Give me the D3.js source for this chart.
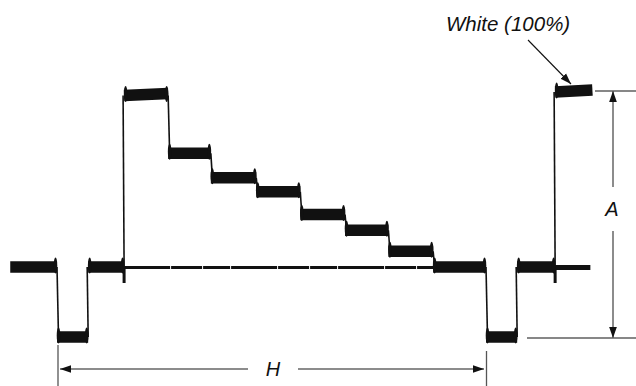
<!DOCTYPE html>
<html>
<head>
<meta charset="utf-8">
<script src="https://cdn.jsdelivr.net/npm/d3@7"></script>
<style>
  body { margin: 0; background: #fff; }
  svg { display: block; }
  .lbl { font-family: "Liberation Sans", Arial, sans-serif; font-style: italic; fill: #111; }
</style>
</head>
<body>
<div id="chart"></div>
<script>
// one scan line, color bars: time in microseconds, level in IRE
const plateauStart = [-6.9, 0, 4.6, 9.9, 16.4, 22.7, 29.4, 35.9, 42.5, 48.9, 55.5, 63.3, 67.9, 73.5];
const plateauEnd   = [0, 4.6, 9.9, 16.4, 22.7, 29.4, 35.9, 42.5, 48.9, 55.5, 63.3, 67.9, 73.5, 79.0];
const plateauIRE   = [0, -40, 0, 98, 65, 51, 43, 30, 21, 9, 0, -40, 0, 100];

// the thinner blanking trace running under the bars and after the white rise
const overlayStart = [9.9, 73.5];
const overlayEnd   = [55.5, 78.7];

// measurements
const lineStart = 0, lineEnd = 63.3;       // H
const syncTip = -40, whiteLevel = 100;     // A
const whiteLabel = "White (100%)";

const width = 636;
const height = 386;

const svg = d3.select("#chart")
    .append("svg")
        .attr("width", width)
        .attr("height", height);

svg.append("rect").attr("width", width).attr("height", height).attr("fill", "#fff");

const x = d3.scaleLinear().domain([0, 63.3]).range([57, 486]);
const y = d3.scaleLinear().domain([-40, 100]).range([337, 92]);

const defs = svg.append("defs");
defs.append("marker")
    .attr("id", "arr")
    .attr("viewBox", "0 0 10 10")
    .attr("refX", 10)
    .attr("refY", 5)
    .attr("markerWidth", 11)
    .attr("markerHeight", 11)
    .attr("markerUnits", "userSpaceOnUse")
    .attr("orient", "auto-start-reverse")
  .append("path")
    .attr("d", "M0,1.5 L10,5 L0,8.5 Z")
    .attr("fill", "#111");

const plateaus = plateauIRE.map((v, i) => ({ t0: plateauStart[i], t1: plateauEnd[i], v }));
const edges = plateaus.slice(1).map((p, i) => ({ t: p.t0, from: plateaus[i].v, to: p.v }));

const trace = svg.append("g");

// thin overlay trace
trace.selectAll("line.overlay")
    .data(overlayStart.map((s, i) => ({ t0: s, t1: overlayEnd[i] })))
    .join("line")
        .attr("class", "overlay")
        .attr("x1", d => x(d.t0))
        .attr("x2", d => x(d.t1))
        .attr("y1", y(0) + 0.5)
        .attr("y2", y(0) + 0.5)
        .attr("stroke", "#111")
        .attr("stroke-width", (d, i) => i === 0 ? 3.2 : 5)
        .attr("stroke-dasharray", (d, i) => i === 0 ? "46,1,31,1,27,1" : null);

// edges between plateaus
trace.selectAll("line.edge")
    .data(edges)
    .join("line")
        .attr("class", "edge")
        .attr("x1", d => x(d.t))
        .attr("x2", d => x(d.t) + (d.to > d.from ? -1 : 1.5))
        .attr("y1", d => y(d.from))
        .attr("y2", d => y(d.to))
        .attr("stroke", "#111")
        .attr("stroke-width", 1.6);

// small dips where the trace rises off blanking
trace.selectAll("rect.dip")
    .data(edges.filter(d => d.from === 0 && d.to > 90))
    .join("rect")
        .attr("class", "dip")
        .attr("x", d => x(d.t) - 1.5)
        .attr("y", d => y(d.from))
        .attr("width", 3)
        .attr("height", 16)
        .attr("fill", "#111");

// plateaus as thick bands
trace.selectAll("line.band")
    .data(plateaus)
    .join("line")
        .attr("class", "band")
        .attr("x1", d => x(d.t0))
        .attr("x2", d => x(d.t1))
        .attr("y1", d => y(d.v))
        .attr("y2", d => y(d.v) - (d.v > 90 ? 2 : 0))
        .attr("stroke", "#111")
        .attr("stroke-width", 11.5);

// overshoot ears at the ends of each plateau
const ears = [];
plateaus.forEach((p, i) => {
    if (i > 0) ears.push({ t: p.t0, v: p.v, side: 1 });
    if (i < plateaus.length - 1) ears.push({ t: p.t1, v: p.v, side: -1 });
});
trace.selectAll("ellipse.ear")
    .data(ears)
    .join("ellipse")
        .attr("class", "ear")
        .attr("cx", d => x(d.t) + d.side * 1.5)
        .attr("cy", d => y(d.v) - 1.5)
        .attr("rx", 1.8)
        .attr("ry", 8)
        .attr("fill", "#111");

// reference lines for A
const ann = svg.append("g");
ann.append("line")
    .attr("x1", 595).attr("x2", width)
    .attr("y1", y(whiteLevel) - 1).attr("y2", y(whiteLevel) - 1)
    .attr("stroke", "#111").attr("stroke-width", 1.2);
ann.append("line")
    .attr("x1", 527).attr("x2", width)
    .attr("y1", y(syncTip) + 1).attr("y2", y(syncTip) + 1)
    .attr("stroke", "#111").attr("stroke-width", 1.2);

// A arrow
const ax = 613;
const aMid = 209;
ann.append("line")
    .attr("x1", ax).attr("x2", ax)
    .attr("y1", aMid - 22).attr("y2", y(whiteLevel) - 1)
    .attr("stroke", "#666").attr("stroke-width", 1.5)
    .attr("marker-end", "url(#arr)");
ann.append("line")
    .attr("x1", ax).attr("x2", ax)
    .attr("y1", aMid + 22).attr("y2", y(syncTip) + 1)
    .attr("stroke", "#666").attr("stroke-width", 1.5)
    .attr("marker-end", "url(#arr)");
ann.append("text")
    .attr("class", "lbl")
    .attr("x", ax - 1)
    .attr("y", aMid + 7)
    .attr("text-anchor", "middle")
    .attr("font-size", 20)
    .text("A");

// H arrow with end ticks
const hy = 369;
const hMid = 273;
ann.append("line")
    .attr("x1", x(lineStart) + 1).attr("x2", x(lineStart) + 1)
    .attr("y1", 345).attr("y2", height)
    .attr("stroke", "#555").attr("stroke-width", 1.3);
ann.append("line")
    .attr("x1", x(lineEnd) + 0.5).attr("x2", x(lineEnd) + 0.5)
    .attr("y1", 351).attr("y2", height)
    .attr("stroke", "#555").attr("stroke-width", 1.3);
ann.append("line")
    .attr("x1", hMid - 25).attr("x2", x(lineStart) + 3)
    .attr("y1", hy).attr("y2", hy)
    .attr("stroke", "#666").attr("stroke-width", 1.5)
    .attr("marker-end", "url(#arr)");
ann.append("line")
    .attr("x1", hMid + 25).attr("x2", x(lineEnd) - 2)
    .attr("y1", hy).attr("y2", hy)
    .attr("stroke", "#666").attr("stroke-width", 1.5)
    .attr("marker-end", "url(#arr)");
ann.append("text")
    .attr("class", "lbl")
    .attr("x", hMid)
    .attr("y", hy + 7)
    .attr("text-anchor", "middle")
    .attr("font-size", 20)
    .text("H");

// White label and pointer
ann.append("text")
    .attr("class", "lbl")
    .attr("x", 446)
    .attr("y", 31)
    .attr("font-size", 20.5)
    .text(whiteLabel);
ann.append("line")
    .attr("x1", 528).attr("y1", 40)
    .attr("x2", 571).attr("y2", 84)
    .attr("stroke", "#111").attr("stroke-width", 1.1)
    .attr("marker-end", "url(#arr)");
</script>
</body>
</html>
